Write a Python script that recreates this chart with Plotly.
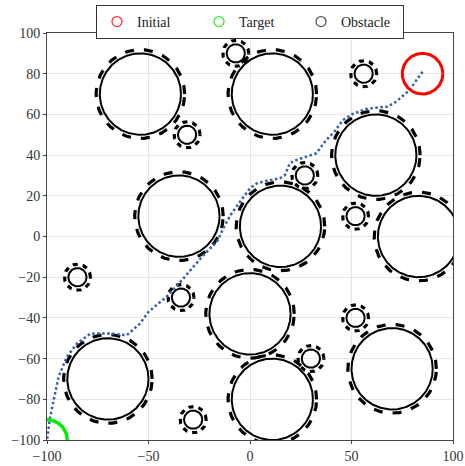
import numpy as np
import plotly.graph_objects as go

# Obstacles (center x, center y, radius)
big_x = [-54, 11, 62, -35, 15, 83, 0, -70, 11, 70]
big_y = [70, 70, 40, 10, 5, 0, -38, -70, -80, -65]
big_r = [20, 20, 20, 20, 20, 20, 20, 20, 20, 20]
big_safe_r = [21.8, 21.8, 21.8, 21.8, 21.8, 21.8, 21.8, 21.8, 21.8, 21.8]

small_x = [-7, -31, 56, 27, 52, -85, -34, 52, 30, -28]
small_y = [90, 50, 80, 30, 10, -20, -30, -40, -60, -90]
small_r = [4.5, 4.5, 4.5, 4.5, 4.5, 4.5, 4.5, 4.5, 4.5, 4.5]
small_safe_r = [6.4, 6.4, 6.4, 6.4, 6.4, 6.4, 6.4, 6.4, 6.4, 6.4]

initial = (85, 80, 10)
target = (-100, -100, 10)

path_x = [85, 78.4, 71.9, 67.8, 62.1, 57.2, 50.6, 45.7, 42, 37.6, 32.7, 27.8, 22.9, 19.6,
          17.2, 14.7, 8.2, 3.3, 0, -4.9, -9, -12.3, -16.3, -22.9, -27.8, -33.5, -41,
          -50.1, -54.2, -60.7, -68.9, -78.7, -85.3, -90.2, -94.3, -96.7, -98.5, -100]
path_y = [81, 71.8, 66.2, 63.8, 63.3, 62.7, 60.2, 57.2, 52, 47.4, 40.9, 39.2, 37.6, 36,
          30.2, 28.6, 27.4, 26.1, 23.7, 17.1, 11.4, 5.7, -2.6, -9.1, -14.8, -21.4, -29.5,
          -37.1, -42.8, -48.5, -47.7, -47.7, -52.6, -59.1, -68.9, -80.3, -89, -100]

legend_names = ["Initial", "Target", "Obstacle"]
legend_colors = ["#ff3333", "#33ee33", "#555555"]

theta = np.linspace(0, 2 * np.pi, 241)


def circle(cx, cy, r):
    return cx + r * np.cos(theta), cy + r * np.sin(theta)


fig = go.Figure()

# obstacles
for xs, ys, rs, srs, dash in [(big_x, big_y, big_r, big_safe_r, "9px,10px"),
                              (small_x, small_y, small_r, small_safe_r, "5px,5px")]:
    for cx, cy, r, sr in zip(xs, ys, rs, srs):
        px, py = circle(cx, cy, r)
        fig.add_trace(go.Scatter(x=px, y=py, mode="lines", line=dict(color="black", width=2),
                                 showlegend=False, hoverinfo="skip"))
        px, py = circle(cx, cy, sr)
        fig.add_trace(go.Scatter(x=px, y=py, mode="lines",
                                 line=dict(color="black", width=3.2, dash=dash),
                                 showlegend=False, hoverinfo="skip"))

# path
fig.add_trace(go.Scatter(x=path_x, y=path_y, mode="lines",
                         line=dict(color="#3a5da6", width=2.5, dash="2.5px,2.5px"),
                         showlegend=False))

# initial & target
px, py = circle(*initial)
fig.add_trace(go.Scatter(x=px, y=py, mode="lines", line=dict(color="#ff0000", width=3),
                         showlegend=False))
px, py = circle(*target)
fig.add_trace(go.Scatter(x=px, y=py, mode="lines", line=dict(color="#00ee00", width=3.5),
                         showlegend=False))

# legend entries
for name, col in zip(legend_names, legend_colors):
    fig.add_trace(go.Scatter(x=[None], y=[None], mode="markers", name=name,
                             marker=dict(symbol="circle-open", size=10, color=col,
                                         line=dict(width=1.3, color=col))))

font = "Liberation Serif, DejaVu Serif, serif"
fig.update_layout(
    width=465, height=466,
    margin=dict(l=47, r=12, t=33, b=26, autoexpand=False),
    paper_bgcolor="white", plot_bgcolor="white",
    font=dict(family=font, size=14, color="#333333"),
    showlegend=True,
    legend=dict(orientation="h", xref="container", yref="container",
                x=250 / 465, xanchor="center", y=1 - 5 / 466, yanchor="top",
                bordercolor="#333333", borderwidth=1, bgcolor="white",
                font=dict(family=font, size=14, color="#222222"),
                itemwidth=30, tracegroupgap=0, entrywidth=57, entrywidthmode="pixels"),
)
fig.update_xaxes(range=[-100, 100], tickvals=[-100, -50, 0, 50, 100], automargin=False,
                 showgrid=True, gridcolor="#e6e6e6", gridwidth=1, zeroline=False,
                 showline=True, linecolor="#444444", linewidth=1, mirror=True,
                 ticks="outside", ticklen=3, tickcolor="#444444")
fig.update_yaxes(range=[-100, 100], tickvals=[-100, -80, -60, -40, -20, 0, 20, 40, 60, 80, 100],
                 automargin=False,
                 showgrid=True, gridcolor="#e6e6e6", gridwidth=1, zeroline=False,
                 showline=True, linecolor="#444444", linewidth=1, mirror=True,
                 ticks="outside", ticklen=3, tickcolor="#444444")

fig.write_html("out.html", config={"displayModeBar": False},
               post_script="document.body.style.margin='0';document.body.style.overflow='hidden';")
